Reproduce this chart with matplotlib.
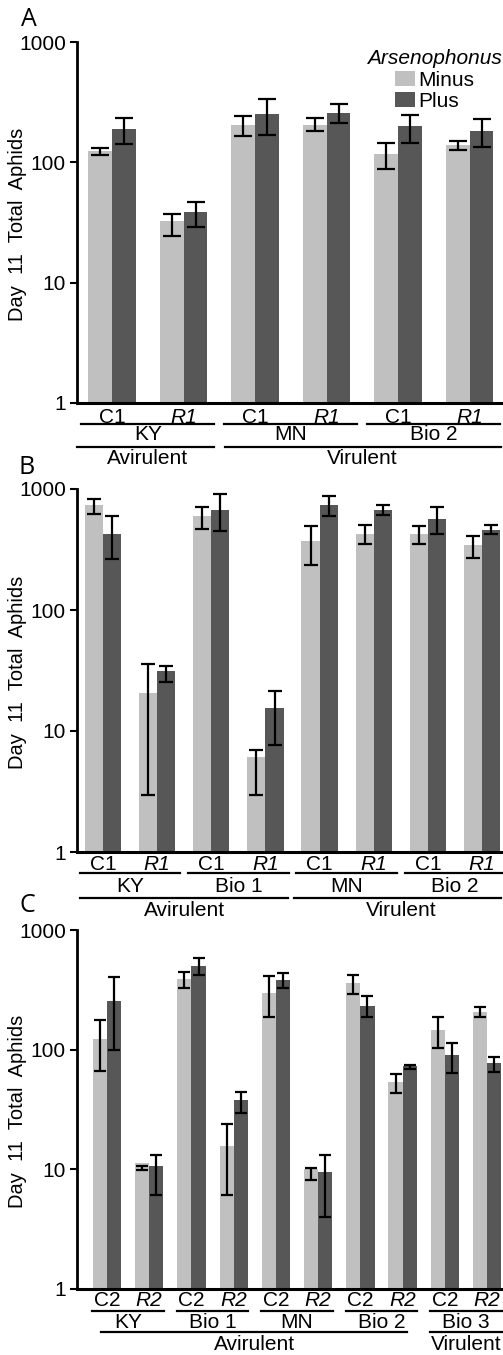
import matplotlib
matplotlib.use("Agg")
import matplotlib.pyplot as plt
import numpy as np
from matplotlib.transforms import blended_transform_factory
from matplotlib.lines import Line2D
from matplotlib.patches import Patch
from matplotlib.ticker import NullLocator, FixedLocator, FixedFormatter

plt.rcParams['font.family'] = ['Liberation Sans', 'DejaVu Sans']

# ---------------- data ----------------
A_strains = ['KY', 'MN', 'Bio 2']
A_ticks = ['C1', 'R1', 'C1', 'R1', 'C1', 'R1']
A_minus = [123, 31.6, 204, 204, 117, 139]
A_minus_lo = [115, 24.5, 164, 181, 87.5, 126]
A_minus_hi = [131, 37.5, 245, 232, 145, 150]
A_plus = [190, 38, 250, 258, 198, 181]
A_plus_lo = [143, 29, 168, 211, 146, 134]
A_plus_hi = [235, 46.9, 333, 305, 249, 231]
A_classes = ['Avirulent', 'Virulent']

B_strains = ['KY', 'Bio 1', 'MN', 'Bio 2']
B_ticks = ['C1', 'R1'] * 4
B_minus = [731, 19.7, 594, 5.04, 369, 427, 427, 342]
B_minus_lo = [621, 2.94, 467, 2.98, 234, 353, 353, 269]
B_minus_hi = [827, 36, 710, 7.0, 491, 500, 491, 411]
B_plus = [427, 30.2, 675, 14.5, 731, 675, 568, 461]
B_plus_lo = [265, 25.4, 446, 7.6, 602, 614, 425, 427]
B_plus_hi = [594, 34.7, 910, 21.5, 869, 741, 704, 507]
B_classes = ['Avirulent', 'Virulent']

C_strains = ['KY', 'Bio 1', 'MN', 'Bio 2', 'Bio 3']
C_ticks = ['C2', 'R2'] * 5
C_minus = [122, 10.3, 387, 14.7, 299, 9.14, 358, 52.3, 146, 205]
C_minus_lo = [66.6, 9.8, 325, 6.1, 186, 8.14, 291, 43.6, 104, 188]
C_minus_hi = [177, 10.6, 448, 23.8, 412, 10.2, 420, 62.2, 186, 226]
C_plus = [255, 9.7, 502, 36.7, 381, 8.58, 231, 72, 89.6, 76.8]
C_plus_lo = [99, 6.1, 420, 29.7, 325, 4.0, 186, 68.9, 63.4, 64.6]
C_plus_hi = [406, 13.3, 579, 44, 434, 13.3, 281, 74, 114, 86.3]
C_classes = ['Avirulent', 'Virulent']

series_names = ['Minus', 'Plus']
legend_title = 'Arsenophonus'
y_ticks = [1, 10, 100, 1000]
y_label = 'Day  11  Total  Aphids'

# ---------------- style ----------------
W, H = 503, 1355
LIGHT = '#c0c0c0'
DARK = '#575757'
FS = 15

fig = plt.figure(figsize=(W / 100, H / 100), dpi=100)


def fy(px):
    return 1 - px / H


def make_ax(left, right, top, bottom):
    return fig.add_axes([left / W, fy(bottom), (right - left) / W, (bottom - top) / H])


def panel(ax, minus, mlo, mhi, plus, plo, phi, ticks, strains, classes,
          xlim, capsize, class_spans, letter, letter_xy, ybase, upad):
    n = len(minus)
    x = np.arange(n)
    w = 0.335
    minus = np.array(minus); plus = np.array(plus)
    ax.bar(x - w / 2, minus, width=w, color=LIGHT, bottom=1)
    ax.bar(x + w / 2, plus, width=w, color=DARK, bottom=1)
    ax.errorbar(x - w / 2, minus, yerr=[minus - np.array(mlo), np.array(mhi) - minus],
                fmt='none', ecolor='black', elinewidth=1.6, capsize=capsize, capthick=1.6)
    ax.errorbar(x + w / 2, plus, yerr=[plus - np.array(plo), np.array(phi) - plus],
                fmt='none', ecolor='black', elinewidth=1.6, capsize=capsize, capthick=1.6)
    ax.set_yscale('log')
    ax.set_ylim(1, 1000)
    ax.set_xlim(*xlim)
    ax.yaxis.set_major_locator(FixedLocator(y_ticks))
    ax.yaxis.set_major_formatter(FixedFormatter([str(t) for t in y_ticks]))
    ax.yaxis.set_minor_locator(NullLocator())
    ax.set_xticks([])
    ax.tick_params(axis='y', length=5, width=1.5, labelsize=FS, pad=3)
    for s in ['top', 'right']:
        ax.spines[s].set_visible(False)
    ax.spines['left'].set_linewidth(2)
    ax.spines['bottom'].set_linewidth(2.2)

    tr = blended_transform_factory(ax.transData, fig.transFigure)
    y_tick, y_line1, y_strain, y_line2, y_class = ybase
    for i, t in enumerate(ticks):
        ax.text(i, fy(y_tick), t, transform=tr, ha='center', va='center',
                fontsize=FS, style='italic' if t.startswith('R') else 'normal')
    for k, s in enumerate(strains):
        a, b = 2 * k - upad, 2 * k + 1 + upad
        ax.add_line(Line2D([a, b], [fy(y_line1)] * 2, transform=tr, color='black',
                           lw=1.6, clip_on=False))
        ax.text(2 * k + 0.5, fy(y_strain), s, transform=tr, ha='center', va='center', fontsize=FS)
    for (a, b, c), name in zip(class_spans, classes):
        ax.add_line(Line2D([a, b], [fy(y_line2)] * 2, transform=tr, color='black',
                           lw=1.6, clip_on=False))
        ax.text(c, fy(y_class), name, transform=tr, ha='center', va='center', fontsize=FS)
    fig.text(letter_xy[0] / W, fy(letter_xy[1]), letter, fontsize=18,
             family='Open Sans', ha='center', va='center')


axA = make_ax(77, 501, 42, 403)
panel(axA, A_minus, A_minus_lo, A_minus_hi, A_plus, A_plus_lo, A_plus_hi, A_ticks,
      A_strains, A_classes, (-0.49, 5.44), 6.8,
      [(-0.49, 1.42, 0.5), (1.58, 5.44, 3.5)], 'A', (29, 19),
      (417, 424, 435, 447, 458), 0.43)

axB = make_ax(77, 501, 489, 852)
panel(axB, B_minus, B_minus_lo, B_minus_hi, B_plus, B_plus_lo, B_plus_hi, B_ticks,
      B_strains, B_classes, (-0.48, 7.35), 5.0,
      [(-0.43, 3.41, 1.5), (3.52, 7.35, 5.5)], 'B', (27, 467),
      (865, 873, 887, 898, 910), 0.43)

axC = make_ax(77, 501, 930, 1289)
panel(axC, C_minus, C_minus_lo, C_minus_hi, C_plus, C_plus_lo, C_plus_hi, C_ticks,
      C_strains, C_classes, (-0.71, 9.33), 4.3,
      [(-0.14, 7.1, 3.5), (7.65, 9.36, 8.5)], 'C', (27, 906),
      (1301, 1311, 1322, 1332, 1345), 0.35)

for ax, (top, bottom) in zip([axA, axB, axC], [(42, 403), (489, 852), (930, 1289)]):
    fig.text(18 / W, fy((top + bottom) / 2 + 2), y_label, rotation=90,
             ha='center', va='center', fontsize=14.5)

handles = [Patch(facecolor=LIGHT), Patch(facecolor=DARK)]
leg = axA.legend(handles, series_names, title=legend_title,
                 title_fontproperties={'style': 'italic', 'size': FS},
                 fontsize=FS, loc='upper right',
                 bbox_to_anchor=(502 / W, fy(49)), bbox_transform=fig.transFigure,
                 frameon=False, handlelength=0.95, handleheight=0.7,
                 handletextpad=0.15, labelspacing=0.12, borderpad=0,
                 borderaxespad=0)

fig.savefig('out.png', dpi=100)
